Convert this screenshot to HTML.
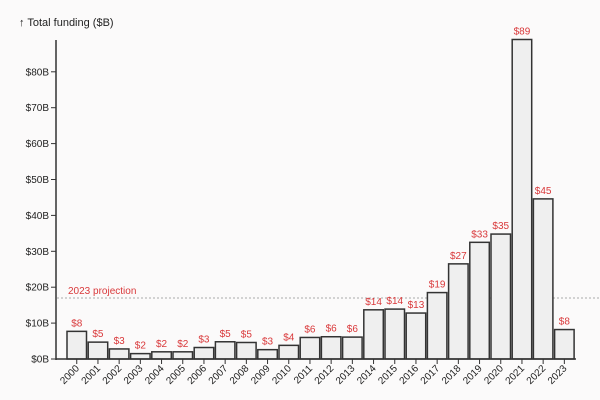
<!DOCTYPE html>
<html><head><meta charset="utf-8"><style>
body{margin:0;background:#fbfafa;}
svg{display:block;font-family:"Liberation Sans",sans-serif;}
</style></head><body>
<svg id="chart" width="600" height="400">
<rect width="600" height="400" fill="#fbfafa"/>
<text x="19" y="26" font-size="11" fill="#222">↑ Total funding ($B)</text>
</svg>
<script>
const years=["2000","2001","2002","2003","2004","2005","2006","2007","2008","2009","2010","2011","2012","2013","2014","2015","2016","2017","2018","2019","2020","2021","2022","2023"];
const funding=[7.7,4.7,2.8,1.5,2,2,3.2,4.8,4.6,2.6,3.8,6,6.2,6.1,13.7,13.9,12.8,18.5,26.5,32.5,34.8,89,44.6,8.2];
const valueLabels=["$8","$5","$3","$2","$2","$2","$3","$5","$5","$3","$4","$6","$6","$6","$14","$14","$13","$19","$27","$33","$35","$89","$45","$8"];
const yTicks=[0,10,20,30,40,50,60,70,80];
const projection=17;
const NS="http://www.w3.org/2000/svg";
const svg=document.getElementById('chart');
const y0=359, pxPer=3.59;
const y=v=>y0-v*pxPer;
const x=i=>67+i*21.2;
const bw=19.5;
function mk(t,a){const e=document.createElementNS(NS,t);for(const k in a)e.setAttribute(k,a[k]);svg.appendChild(e);return e;}
// projection line
let pl=mk('line',{x1:57,x2:600,y1:y(projection),y2:y(projection),stroke:'#aaa','stroke-dasharray':'2,2','stroke-width':1});


let pt=mk('text',{x:68,y:y(projection)-4,'font-size':10,fill:'#d9383a'});
pt.textContent='2023 projection';


// bars
funding.forEach((v,i)=>{
 let r=mk('rect',{x:x(i),y:y(v),width:bw,height:v*pxPer,fill:'#efefef',stroke:'#333','stroke-width':1.5});
 
 
 let t=mk('text',{x:x(i)+bw/2,y:y(v)-5,'font-size':10,fill:'#d9383a','text-anchor':'middle'});
 t.textContent=valueLabels[i];
 
 
 let tk=mk('line',{x1:x(i)+bw/2,x2:x(i)+bw/2,y1:y0,y2:y0+5,stroke:'#333','stroke-width':1});
 
 
 let xl=mk('text',{x:0,y:0,'font-size':10,fill:'#222','text-anchor':'end',transform:`translate(${x(i)+bw/2+3},${y0+10}) rotate(-45)`});
 xl.textContent=years[i];
 
 
});
// y axis
let ax=mk('line',{x1:56,x2:56,y1:40,y2:y0+1,stroke:'#333','stroke-width':1.5});


let bx=mk('line',{x1:56,x2:576,y1:y0,y2:y0,stroke:'#333','stroke-width':1.5});


yTicks.forEach(v=>{
 let tk=mk('line',{x1:51,x2:56,y1:y(v),y2:y(v),stroke:'#333','stroke-width':1});
 
 
 let t=mk('text',{x:49,y:y(v)+3.5,'font-size':10,fill:'#222','text-anchor':'end'});
 t.textContent='$'+v+'B';
 
 
});
</script>
</body></html>
